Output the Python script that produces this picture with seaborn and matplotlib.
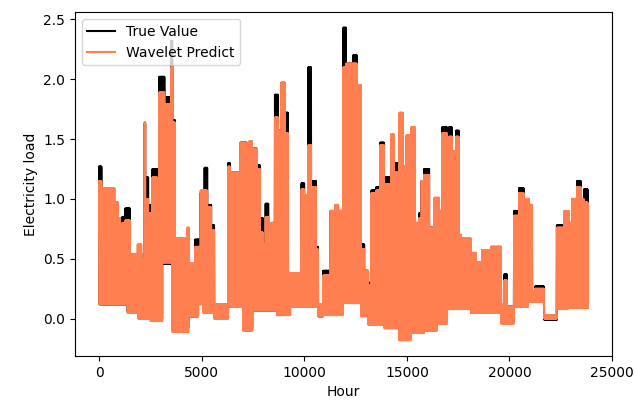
import numpy as np
import pandas as pd
import matplotlib
matplotlib.use("Agg")
import matplotlib.pyplot as plt
import seaborn as sns

# Envelope of the daily load cycle (hour where a level starts)
high_start = [0, 100, 731, 900, 1020, 1121, 1267, 1511, 1852, 2047, 2193, 2242, 2380, 2583, 2826,
              2924, 3170, 3460, 3500, 3560, 3680, 4290, 4386, 4678, 4922, 5117, 5263, 5458, 5604,
              6286, 6384, 6871, 7200, 7300, 7456, 7700, 7846, 7992, 8089, 8235, 8382, 8550, 8723,
              8869, 9064, 9210, 9843, 10000, 10184, 10331, 10574, 10672, 10916, 11257, 11500, 11650,
              11890, 12036, 12380, 12570, 12767, 12913, 13108, 13255, 13500, 13693, 13888, 14229,
              14375, 14619, 14814, 14960, 15204, 15399, 15594, 15700, 15837, 16081, 16325, 16568,
              16714, 16958, 17056, 17201, 17396, 17543, 17640, 18128, 18371, 18664, 19102, 19589,
              19736, 19882, 20223, 20467, 20710, 20954, 21100, 21246, 21685, 22318, 22659, 22903,
              23049, 23293, 23488, 23634]
true_high = [1.27, 1.09, 0.97, 0.84, 0.72, 0.85, 0.92, 0.54, 0.55, 0.50, 1.63, 1.18, 0.95, 1.25, 0.95,
             2.02, 1.85, 1.85, 2.32, 1.66, 0.67, 0.74, 0.44, 0.66, 1.05, 1.26, 0.95, 0.78, 0.11,
             1.30, 1.22, 1.47, 1.40, 1.48, 1.42, 1.28, 0.84, 0.62, 0.96, 0.64, 0.80, 1.87, 1.57,
             1.97, 1.72, 0.38, 1.13, 1.03, 2.10, 1.15, 0.60, 0.12, 0.40, 0.90, 0.95, 0.90,
             2.43, 2.13, 2.20, 1.95, 0.62, 0.40, 0.30, 1.07, 1.10, 1.47, 1.18, 1.30,
             1.30, 1.30, 1.27, 1.40, 1.30, 0.80, 0.88, 1.15, 1.25, 0.76, 0.93, 0.80,
             1.60, 1.20, 1.60, 1.30, 1.57, 0.70, 0.65, 0.54, 0.45, 0.57, 0.60, 0.12,
             0.37, 0.10, 0.90, 1.09, 1.00, 0.95, 0.23, 0.27, 0.02, 0.78, 0.85, 0.80,
             1.00, 1.15, 1.00, 1.08]
pred_high = [1.15, 1.09, 0.97, 0.84, 0.72, 0.80, 0.82, 0.54, 0.62, 0.50, 1.64, 1.00, 0.88, 1.18, 0.92,
             1.89, 1.79, 1.80, 2.10, 1.64, 0.67, 0.76, 0.46, 0.60, 1.07, 1.07, 0.93, 0.74, 0.12,
             1.27, 1.22, 1.47, 1.40, 1.48, 1.42, 1.25, 0.72, 0.62, 0.85, 0.64, 0.80, 1.68, 1.57,
             1.97, 1.55, 0.38, 1.08, 1.03, 1.45, 1.10, 0.58, 0.12, 0.36, 0.90, 0.95, 0.90,
             2.10, 2.13, 2.13, 1.95, 0.58, 0.40, 0.28, 1.05, 1.07, 1.45, 1.12, 1.54,
             1.22, 1.72, 1.27, 1.53, 1.60, 0.80, 0.84, 1.15, 1.20, 0.76, 1.01, 0.90,
             1.55, 1.20, 1.52, 1.40, 1.52, 0.70, 0.67, 0.55, 0.47, 0.57, 0.60, 0.12,
             0.32, 0.10, 0.86, 1.05, 1.00, 0.95, 0.23, 0.25, 0.03, 0.76, 0.90, 0.80,
             1.00, 1.10, 1.00, 0.97]

low_start = [0, 1365, 1900, 2500, 3070, 3557, 4337, 4820, 5070, 5604, 6286, 7017, 7456, 8674, 9307,
             10672, 10916, 11890, 12767, 13108, 13888, 14619, 15204, 15837, 16471, 16958, 18128,
             19589, 20223, 20900, 21685, 22318, 22850]
true_low = [0.12, 0.06, 0.02, 0.00, 0.46, -0.08, 0.02, 0.15, 0.21, 0.01, 0.10, -0.08, 0.07, 0.03, 0.11,
            0.02, 0.05, 0.15, 0.05, -0.02, -0.04, -0.10, -0.08, -0.07, 0.03, 0.10, 0.05,
            -0.02, 0.10, 0.15, -0.01, 0.13, 0.10]
pred_low = [0.12, 0.05, 0.00, -0.02, 0.47, -0.11, 0.02, 0.12, 0.05, 0.00, 0.10, -0.10, 0.07, 0.03, 0.10,
            0.02, 0.03, 0.13, 0.02, -0.05, -0.08, -0.18, -0.12, -0.10, -0.04, 0.08, 0.05,
            -0.04, 0.10, 0.14, 0.00, 0.08, 0.09]

n_hours = 23832
half_day = 12

hours = np.arange(0, n_hours, half_day)
is_peak = (np.arange(len(hours)) % 2) == 0
hi_idx = np.searchsorted(high_start, hours, side="right") - 1
lo_idx = np.searchsorted(low_start, hours, side="right") - 1
true_vals = np.where(is_peak, np.array(true_high)[hi_idx], np.array(true_low)[lo_idx])
pred_vals = np.where(is_peak, np.array(pred_high)[hi_idx], np.array(pred_low)[lo_idx])

df = pd.DataFrame({"Hour": hours, "True Value": true_vals, "Wavelet Predict": pred_vals})

fig, ax = plt.subplots(figsize=(6.35, 4.03), dpi=100)
fig.subplots_adjust(left=0.118, right=0.964, top=0.970, bottom=0.117)

sns.lineplot(data=df, x="Hour", y="True Value", color="black", linewidth=1.5,
             label="True Value", ax=ax, sort=False)
sns.lineplot(data=df, x="Hour", y="Wavelet Predict", color="coral", linewidth=1.5,
             label="Wavelet Predict", ax=ax, sort=False)

ax.set_xlabel("Hour")
ax.set_ylabel("Electricity load")
ax.set_xticks([0, 5000, 10000, 15000, 20000, 25000])
ax.legend(loc="upper left")

fig.savefig("out.png", dpi=100)
